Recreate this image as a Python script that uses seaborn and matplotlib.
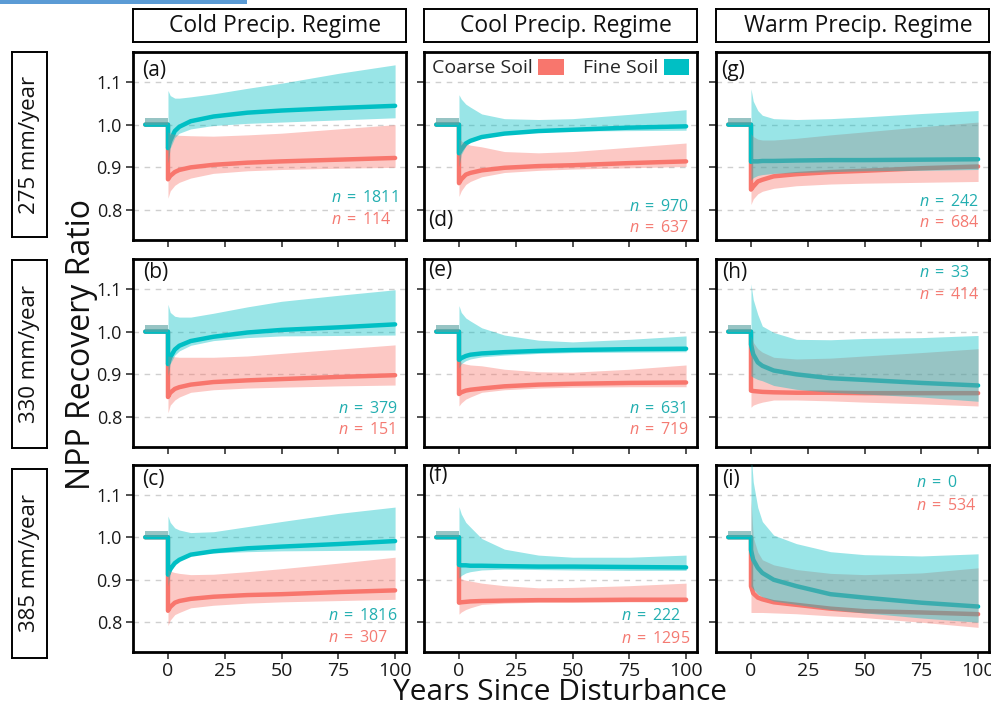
import numpy as np
import pandas as pd
import matplotlib
matplotlib.use("Agg")
import matplotlib.pyplot as plt
from matplotlib.patches import Patch, Rectangle
import seaborn as sns

# ---------------- data ----------------
years = [0, 1, 3, 5, 10, 20, 35, 50, 75, 100]
pre_years = [-10, 0]
pre_mean = [1.0, 1.0]
pre_lo = [1.0, 1.0]
pre_hi = [1.015, 1.015]

col_titles = ["Cold Precip. Regime", "Cool Precip. Regime", "Warm Precip. Regime"]
row_titles = ["275 mm/year", "330 mm/year", "385 mm/year"]
panel_letters = [["a", "d", "g"], ["b", "e", "h"], ["c", "f", "i"]]
x_ticks = [0, 25, 50, 75, 100]
y_ticks = [0.8, 0.9, 1.0, 1.1]

n_fine = {"a": 1811, "b": 379, "c": 1816, "d": 970, "e": 631, "f": 222, "g": 242, "h": 33, "i": 0}
n_coarse = {"a": 114, "b": 151, "c": 307, "d": 637, "e": 719, "f": 1295, "g": 684, "h": 414, "i": 534}

fine_mean = {
    "a": [0.945, 0.962, 0.985, 0.995, 1.008, 1.019, 1.028, 1.033, 1.039, 1.044],
    "b": [0.924, 0.940, 0.958, 0.967, 0.978, 0.988, 0.998, 1.004, 1.010, 1.017],
    "c": [0.912, 0.925, 0.939, 0.947, 0.959, 0.967, 0.974, 0.978, 0.984, 0.991],
    "d": [0.933, 0.942, 0.956, 0.962, 0.971, 0.979, 0.985, 0.988, 0.993, 0.996],
    "e": [0.934, 0.938, 0.943, 0.946, 0.949, 0.952, 0.955, 0.957, 0.959, 0.960],
    "f": [0.935, 0.934, 0.934, 0.933, 0.933, 0.932, 0.931, 0.931, 0.930, 0.929],
    "g": [0.913, 0.914, 0.914, 0.915, 0.915, 0.916, 0.917, 0.917, 0.918, 0.919],
    "h": [0.970, 0.947, 0.928, 0.920, 0.909, 0.900, 0.891, 0.887, 0.880, 0.874],
    "i": [0.970, 0.947, 0.928, 0.916, 0.900, 0.885, 0.866, 0.858, 0.846, 0.837],
}
fine_hi = {
    "a": [1.080, 1.068, 1.062, 1.062, 1.065, 1.072, 1.085, 1.097, 1.120, 1.140],
    "b": [1.064, 1.045, 1.036, 1.034, 1.034, 1.043, 1.058, 1.071, 1.085, 1.098],
    "c": [1.050, 1.035, 1.022, 1.017, 1.011, 1.013, 1.025, 1.037, 1.056, 1.071],
    "d": [1.070, 1.060, 1.048, 1.041, 1.025, 1.014, 1.012, 1.014, 1.024, 1.035],
    "e": [1.061, 1.045, 1.032, 1.025, 1.009, 0.992, 0.980, 0.976, 0.982, 0.990],
    "f": [1.072, 1.055, 1.035, 1.024, 0.997, 0.972, 0.958, 0.953, 0.953, 0.958],
    "g": [1.084, 1.055, 1.033, 1.022, 1.014, 1.012, 1.014, 1.018, 1.026, 1.033],
    "h": [1.112, 1.075, 1.040, 1.013, 0.998, 0.982, 0.981, 0.984, 0.986, 0.991],
    "i": [1.200, 1.130, 1.070, 1.037, 1.005, 0.985, 0.966, 0.959, 0.956, 0.961],
}
fine_lo = {
    "a": [0.910, 0.945, 0.970, 0.980, 0.990, 0.998, 1.003, 1.006, 1.011, 1.016],
    "b": [0.897, 0.925, 0.945, 0.955, 0.968, 0.979, 0.986, 0.990, 0.991, 0.992],
    "c": [0.885, 0.915, 0.937, 0.947, 0.959, 0.963, 0.966, 0.968, 0.969, 0.970],
    "d": [0.902, 0.930, 0.950, 0.960, 0.971, 0.978, 0.983, 0.985, 0.986, 0.987],
    "e": [0.915, 0.925, 0.932, 0.936, 0.941, 0.945, 0.949, 0.951, 0.952, 0.953],
    "f": [0.904, 0.910, 0.916, 0.919, 0.923, 0.925, 0.924, 0.923, 0.922, 0.922],
    "g": [0.870, 0.876, 0.881, 0.883, 0.886, 0.888, 0.890, 0.892, 0.893, 0.895],
    "h": [0.897, 0.893, 0.888, 0.885, 0.874, 0.865, 0.858, 0.854, 0.847, 0.837],
    "i": [0.885, 0.878, 0.866, 0.860, 0.850, 0.842, 0.830, 0.822, 0.810, 0.800],
}
coarse_mean = {
    "a": [0.872, 0.880, 0.889, 0.894, 0.900, 0.906, 0.911, 0.914, 0.918, 0.922],
    "b": [0.847, 0.857, 0.866, 0.870, 0.876, 0.882, 0.886, 0.889, 0.894, 0.898],
    "c": [0.827, 0.836, 0.846, 0.850, 0.855, 0.860, 0.864, 0.866, 0.871, 0.875],
    "d": [0.863, 0.872, 0.883, 0.887, 0.893, 0.899, 0.903, 0.905, 0.910, 0.914],
    "e": [0.854, 0.858, 0.862, 0.864, 0.867, 0.872, 0.876, 0.878, 0.880, 0.881],
    "f": [0.846, 0.847, 0.848, 0.849, 0.850, 0.851, 0.852, 0.852, 0.853, 0.853],
    "g": [0.848, 0.855, 0.867, 0.871, 0.879, 0.884, 0.889, 0.892, 0.898, 0.902],
    "h": [0.862, 0.861, 0.860, 0.859, 0.858, 0.857, 0.857, 0.856, 0.856, 0.856],
    "i": [0.885, 0.868, 0.858, 0.854, 0.847, 0.841, 0.832, 0.826, 0.823, 0.819],
}
coarse_hi = {
    "a": [0.983, 0.980, 0.977, 0.975, 0.974, 0.973, 0.976, 0.980, 0.990, 1.000],
    "b": [0.943, 0.942, 0.941, 0.940, 0.940, 0.940, 0.943, 0.949, 0.959, 0.969],
    "c": [0.924, 0.920, 0.917, 0.915, 0.912, 0.913, 0.919, 0.926, 0.939, 0.953],
    "d": [0.967, 0.962, 0.955, 0.952, 0.948, 0.937, 0.934, 0.937, 0.947, 0.957],
    "e": [0.929, 0.927, 0.924, 0.922, 0.920, 0.912, 0.906, 0.905, 0.912, 0.922],
    "f": [0.904, 0.902, 0.899, 0.897, 0.892, 0.886, 0.881, 0.882, 0.886, 0.892],
    "g": [0.979, 0.972, 0.966, 0.964, 0.964, 0.968, 0.976, 0.983, 0.995, 1.006],
    "h": [0.990, 0.975, 0.960, 0.952, 0.940, 0.936, 0.938, 0.943, 0.951, 0.960],
    "i": [1.090, 1.000, 0.965, 0.947, 0.935, 0.924, 0.915, 0.912, 0.916, 0.928],
}
coarse_lo = {
    "a": [0.828, 0.845, 0.858, 0.865, 0.875, 0.886, 0.892, 0.895, 0.898, 0.900],
    "b": [0.810, 0.828, 0.840, 0.847, 0.858, 0.864, 0.868, 0.870, 0.873, 0.875],
    "c": [0.792, 0.805, 0.818, 0.823, 0.834, 0.840, 0.845, 0.848, 0.851, 0.854],
    "d": [0.832, 0.845, 0.860, 0.867, 0.878, 0.888, 0.893, 0.896, 0.899, 0.902],
    "e": [0.826, 0.833, 0.842, 0.847, 0.858, 0.864, 0.868, 0.870, 0.871, 0.871],
    "f": [0.819, 0.824, 0.830, 0.834, 0.842, 0.845, 0.847, 0.847, 0.848, 0.848],
    "g": [0.813, 0.826, 0.838, 0.844, 0.851, 0.857, 0.861, 0.863, 0.865, 0.867],
    "h": [0.823, 0.828, 0.832, 0.835, 0.840, 0.840, 0.838, 0.835, 0.831, 0.826],
    "i": [0.823, 0.823, 0.823, 0.823, 0.822, 0.820, 0.815, 0.811, 0.800, 0.788],
}

# ---------------- layout / style ----------------
RED = "#F8766D"
TEAL = "#00BFC4"
RED_TXT = "#F47A72"
TEAL_TXT = "#22AEB0"
W, H = 991, 708

col_left = [133, 424, 716]
col_w = 273
row_top = [52, 259, 465]
row_h = 188

n_pos = {  # (x, y_fine, y_coarse) in axes fraction
    "a": (0.725, 0.223, 0.106), "b": (0.752, 0.20, 0.09), "c": (0.715, 0.19, 0.075),
    "d": (0.752, 0.176, 0.064), "e": (0.752, 0.20, 0.09), "f": (0.722, 0.19, 0.07),
    "g": (0.742, 0.20, 0.09), "h": (0.742, 0.926, 0.81), "i": (0.732, 0.904, 0.78),
}
letter_pos = {
    "a": (0.033, 0.904), "b": (0.037, 0.93), "c": (0.033, 0.92),
    "d": (0.015, 0.106), "e": (0.015, 0.94), "f": (0.015, 0.945),
    "g": (0.018, 0.904), "h": (0.022, 0.926), "i": (0.022, 0.92),
}

sns.set_theme(style="white")
FONT = ["Open Sans", "DejaVu Sans"]
plt.rcParams["font.family"] = FONT
plt.rcParams["mathtext.fontset"] = "custom"
plt.rcParams["mathtext.it"] = "Open Sans:italic"
plt.rcParams["mathtext.rm"] = "Open Sans"

fig = plt.figure(figsize=(W / 100, H / 100), dpi=100)
fig.patch.set_facecolor("white")


def fig_rect(x0, y0, w, h):
    return [x0 / W, 1 - (y0 + h) / H, w / W, h / H]


def n_label(n):
    return r"$n\;=\;" + str(n) + "$"


for r in range(3):
    for c in range(3):
        p = panel_letters[r][c]
        h = row_h if r < 2 else 187
        ax = fig.add_axes(fig_rect(col_left[c], row_top[r], col_w, h))

        df = pd.DataFrame({
            "year": pre_years + years + pre_years + years,
            "value": pre_mean + coarse_mean[p] + pre_mean + fine_mean[p],
            "soil": ["Coarse Soil"] * 12 + ["Fine Soil"] * 12,
        })
        sns.lineplot(data=df, x="year", y="value", hue="soil",
                     hue_order=["Coarse Soil", "Fine Soil"], palette=[RED, TEAL],
                     estimator=None, sort=False, lw=3.2, legend=False, ax=ax, zorder=2)

        ax.fill_between(pre_years, pre_lo, pre_hi, color=RED, alpha=0.4, lw=0, zorder=3)
        ax.fill_between(years, coarse_lo[p], coarse_hi[p], color=RED, alpha=0.4, lw=0, zorder=3)
        ax.fill_between(pre_years, pre_lo, pre_hi, color=TEAL, alpha=0.4, lw=0, zorder=4)
        ax.fill_between(years, fine_lo[p], fine_hi[p], color=TEAL, alpha=0.4, lw=0, zorder=4)

        ax.set_xlim(-15.4, 104.8)
        ax.set_ylim(0.73, 1.17)
        ax.set_xticks(x_ticks)
        ax.set_yticks(y_ticks)
        ax.yaxis.grid(True, ls=(0, (4, 4)), color="#CFCFCF", lw=1)
        ax.xaxis.grid(False)
        ax.set_axisbelow(True)
        ax.set_xlabel("")
        ax.set_ylabel("")
        for s in ax.spines.values():
            s.set_color("black")
            s.set_linewidth(2.0)
        ax.tick_params(axis="both", direction="out", length=5, width=1.2,
                       color="#333333", labelcolor="#1a1a1a", bottom=True, left=True)
        ax.tick_params(axis="x", labelsize=14, pad=2)
        ax.tick_params(axis="y", labelsize=13, pad=3)
        ax.set_yticklabels([f"{v:.1f}" for v in y_ticks] if c == 0 else [])
        ax.set_xticklabels([str(v) for v in x_ticks] if r == 2 else [])

        lx, ly = letter_pos[p]
        ax.text(lx, ly, f"({p})", transform=ax.transAxes, fontsize=15,
                ha="left", va="center", color="#111111", zorder=6)
        nx, nyf, nyc = n_pos[p]
        ax.text(nx, nyf, n_label(n_fine[p]), transform=ax.transAxes, fontsize=11.5,
                ha="left", va="center", color=TEAL_TXT, zorder=6)
        ax.text(nx, nyc, n_label(n_coarse[p]), transform=ax.transAxes, fontsize=11.5,
                ha="left", va="center", color=RED_TXT, zorder=6)

        if p == "d":
            handles = [Patch(facecolor=RED, edgecolor="none"), Patch(facecolor=TEAL, edgecolor="none")]
            ax.legend(handles=handles, labels=["Coarse Soil", "Fine Soil"], ncol=2,
                      markerfirst=False, frameon=False, loc="center",
                      bbox_to_anchor=(0.5, 0.915), fontsize=14, handlelength=1.3,
                      handleheight=0.9, handletextpad=0.3, columnspacing=1.0)

# column header boxes
for c in range(3):
    bax = fig.add_axes(fig_rect(col_left[c], 9, col_w, 33))
    bax.set_xticks([]); bax.set_yticks([])
    for s in bax.spines.values():
        s.set_color("black"); s.set_linewidth(1.4)
    bax.set_facecolor("white")
    bax.text(0.52, 0.48, col_titles[c], transform=bax.transAxes, ha="center", va="center",
             fontsize=16.5, color="#111111")

# row header boxes
row_box = [(52, 185), (260, 188), (469, 189)]
for r in range(3):
    y0, hh = row_box[r]
    bax = fig.add_axes(fig_rect(12, y0, 35, hh))
    bax.set_xticks([]); bax.set_yticks([])
    for s in bax.spines.values():
        s.set_color("black"); s.set_linewidth(1.4)
    bax.set_facecolor("white")
    bax.text(0.5, 0.5, row_titles[r], transform=bax.transAxes, ha="center", va="center",
             rotation=90, fontsize=16, color="#111111")

fig.text(82 / W, 1 - 345 / H, "NPP Recovery Ratio", rotation=90, ha="center", va="center",
         fontsize=23, color="#111111")
fig.text(560 / W, 1 - 700 / H, "Years Since Disturbance", ha="center", va="baseline",
         fontsize=21.5, color="#111111")

fig.patches.append(Rectangle((0, 1 - 4 / H), 247 / W, 4 / H, transform=fig.transFigure,
                             facecolor="#5B9BD5", edgecolor="none"))

fig.savefig("out.png", dpi=100, facecolor="white")
